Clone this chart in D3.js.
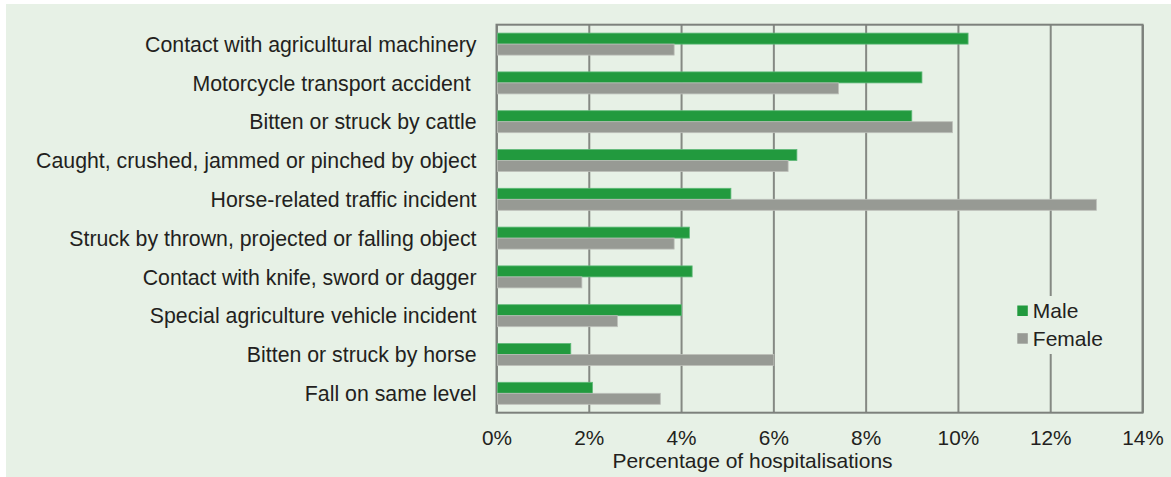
<!DOCTYPE html>
<html>
<head>
<meta charset="utf-8">
<script src="https://cdn.jsdelivr.net/npm/d3@7"></script>
<style>
    html, body { margin: 0; padding: 0; background: #fff; }
    svg text { font-family: Arial, "Liberation Sans", sans-serif; fill: #231f20; }
</style>
</head>
<body>
<div id="chart"></div>
<script>
// categories top to bottom, values are % of hospitalisations
const categories = [
    'Contact with agricultural machinery',
    'Motorcycle transport accident\u00a0',
    'Bitten or struck by cattle',
    'Caught, crushed, jammed or pinched by object',
    'Horse-related traffic incident',
    'Struck by thrown, projected or falling object',
    'Contact with knife, sword or dagger',
    'Special agriculture vehicle incident',
    'Bitten or struck by horse',
    'Fall on same level'
];
const seriesNames = ['Male', 'Female'];
const maleValues = [10.22, 9.22, 9.0, 6.51, 5.08, 4.18, 4.24, 4.01, 1.61, 2.08];
const femaleValues = [3.85, 7.41, 9.88, 6.32, 13.0, 3.85, 1.85, 2.62, 6.01, 3.55];
const xTicks = [0, 2, 4, 6, 8, 10, 12, 14];
const axisTitle = 'Percentage of hospitalisations';

const colors = {Male: '#229a3e', Female: '#979a94'};
const edges = {Male: '#5fb978', Female: '#bcbfb9'};

const W = 1171, H = 477;
const plot = {left: 496.5, right: 1142.5, top: 24.7, bottom: 412.7};

const svg = d3.select('#chart').append('svg')
    .attr('width', W)
    .attr('height', H);

// panel background
svg.append('rect')
    .attr('x', 6).attr('y', 4)
    .attr('width', W - 6).attr('height', H - 4)
    .attr('fill', '#e7f1e6');

const x = d3.scaleLinear().domain([0, 14]).range([plot.left, plot.right]);
const y = d3.scaleBand().domain(categories)
    .range([plot.top, plot.bottom])
    .paddingInner(0.433)
    .paddingOuter(0.2165);
const ySub = d3.scaleBand().domain(seriesNames).range([0, y.bandwidth()]);

// gridlines + tick labels
const xAxis = svg.append('g')
    .attr('transform', `translate(0,${plot.bottom})`)
    .call(d3.axisBottom(x)
        .tickValues(xTicks)
        .tickFormat(d => d + '%')
        .tickSizeInner(-(plot.bottom - plot.top))
        .tickSizeOuter(0)
        .tickPadding(17.5));
xAxis.select('.domain').remove();
xAxis.selectAll('.tick line')
    .attr('stroke', '#858983')
    .attr('stroke-width', 2);
xAxis.selectAll('.tick text')
    .style('font-size', '20.8px')
    .attr('fill', '#231f20');

// plot frame
svg.append('rect')
    .attr('x', plot.left).attr('y', plot.top)
    .attr('width', plot.right - plot.left)
    .attr('height', plot.bottom - plot.top)
    .attr('fill', 'none')
    .attr('stroke', '#7d817c')
    .attr('stroke-width', 2);

// bars
const rows = categories.map((c, i) => ({cat: c, Male: maleValues[i], Female: femaleValues[i]}));
const groups = svg.append('g').selectAll('g')
    .data(rows)
    .enter()
    .append('g')
    .attr('transform', d => `translate(0,${y(d.cat)})`);

groups.selectAll('rect')
    .data(d => seriesNames.map(s => ({key: s, value: d[s]})))
    .enter()
    .append('rect')
    .attr('x', x(0) + 1)
    .attr('y', d => ySub(d.key))
    .attr('width', d => x(d.value) - x(0) - 1)
    .attr('height', ySub.bandwidth())
    .attr('fill', d => colors[d.key])
    .attr('stroke', d => edges[d.key])
    .attr('stroke-width', 0.8);

// category labels
svg.append('g').selectAll('text')
    .data(categories)
    .enter()
    .append('text')
    .attr('x', plot.left - 20)
    .attr('y', d => y(d) + y.bandwidth() / 2)
    .attr('dy', '0.36em')
    .attr('text-anchor', 'end')
    .style('font-size', '21.3px')
    .style('white-space', 'pre')
    .text(d => d);

// axis title
svg.append('text')
    .attr('x', 752.5)
    .attr('y', 468.3)
    .attr('text-anchor', 'middle')
    .style('font-size', '21px')
    .text(axisTitle);

// legend
const legend = svg.append('g');
legend.append('rect')
    .attr('x', 1012).attr('y', 296)
    .attr('width', 100).attr('height', 58)
    .attr('fill', '#e7f1e6');
const items = legend.selectAll('g')
    .data(seriesNames)
    .enter()
    .append('g')
    .attr('transform', (d, i) => `translate(1017.3,${305.5 + i * 27.7})`);
items.append('rect')
    .attr('width', 10.5).attr('height', 10.5)
    .attr('fill', d => colors[d]);
items.append('text')
    .attr('x', 15.5)
    .attr('y', 12.6)
    .style('font-size', '21px')
    .text(d => d);
</script>
</body>
</html>
